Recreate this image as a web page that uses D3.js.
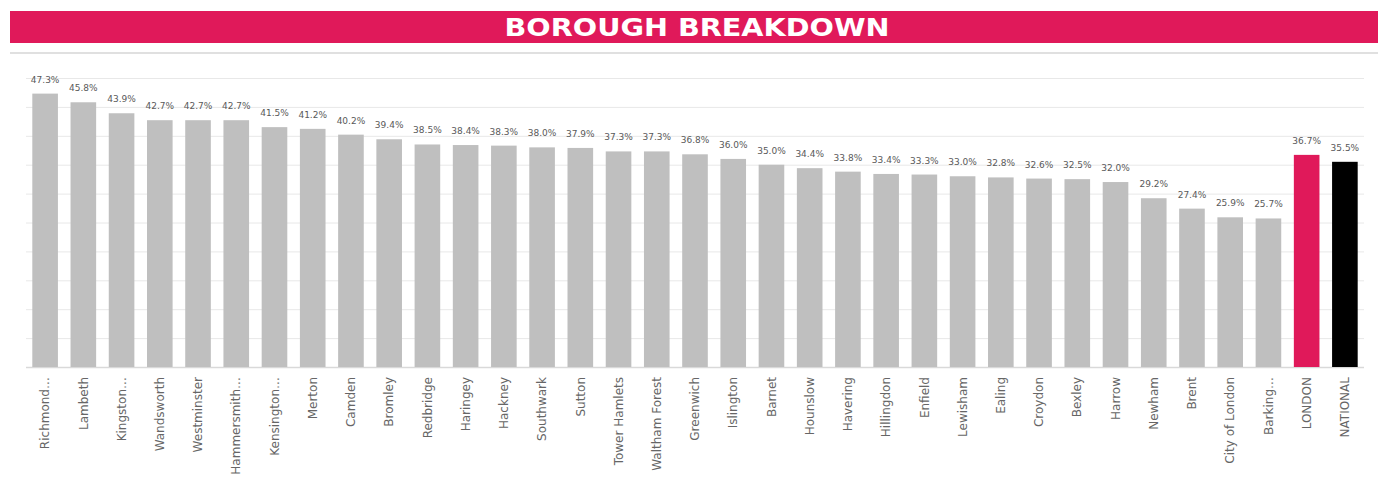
<!DOCTYPE html>
<html>
<head>
<meta charset="utf-8">
<script src="https://cdn.jsdelivr.net/npm/d3@7"></script>
<style>
  body { margin: 0; background: #fff; }
  svg { display: block; }
</style>
</head>
<body>
<svg width="1378" height="483"></svg>
<script>
// chart data
var boroughs = ["Richmond…", "Lambeth", "Kingston…", "Wandsworth", "Westminster", "Hammersmith…",
    "Kensington…", "Merton", "Camden", "Bromley", "Redbridge", "Haringey", "Hackney", "Southwark",
    "Sutton", "Tower Hamlets", "Waltham Forest", "Greenwich", "Islington", "Barnet", "Hounslow",
    "Havering", "Hillingdon", "Enfield", "Lewisham", "Ealing", "Croydon", "Bexley", "Harrow",
    "Newham", "Brent", "City of London", "Barking…", "LONDON", "NATIONAL"];
var shares = [47.3, 45.8, 43.9, 42.7, 42.7, 42.7, 41.5, 41.2, 40.2, 39.4, 38.5, 38.4, 38.3, 38.0,
    37.9, 37.3, 37.3, 36.8, 36.0, 35.0, 34.4, 33.8, 33.4, 33.3, 33.0, 32.8, 32.6, 32.5, 32.0,
    29.2, 27.4, 25.9, 25.7, 36.7, 35.5];
var gridTicks = [0, 5, 10, 15, 20, 25, 30, 35, 40, 45, 50];
var title = "BOROUGH BREAKDOWN";

const drawChart = () => {
    var width = 1378;
    var margin = { top: 78, bottom: 116, left: 26, right: 14 };
    var height = 483;

    var svg = d3.select('svg');

    // title banner
    svg.append('rect')
        .attr('x', 10).attr('y', 11)
        .attr('width', width - 10).attr('height', 32)
        .attr('fill', '#e0195a');

    svg.append('text')
        .attr('x', 697).attr('y', 36)
        .attr('text-anchor', 'middle')
        .attr('fill', '#fff')
        .attr('font-family', 'DejaVu Sans')
        .attr('font-weight', 'bold')
        .attr('font-size', 24)
        .attr('textLength', 385)
        .attr('lengthAdjust', 'spacingAndGlyphs')
        .text(title);

    // thin grey separator under banner
    svg.append('rect')
        .attr('x', 10).attr('y', 52)
        .attr('width', width - 10).attr('height', 2)
        .attr('fill', '#e0e0e0');

    var xScale = d3.scaleBand()
        .domain(boroughs)
        .range([margin.left, width - margin.right])
        .paddingInner(0.33)
        .paddingOuter(0.165);

    var yScale = d3.scaleLinear()
        .domain([0, 50])
        .range([height - margin.bottom, margin.top]);

    // gridlines
    svg.append('g')
        .selectAll('line')
        .data(gridTicks)
        .enter().append('line')
        .attr('x1', margin.left)
        .attr('x2', width - margin.right)
        .attr('y1', d => yScale(d) + 0.5)
        .attr('y2', d => yScale(d) + 0.5)
        .attr('stroke', d => d === 0 ? '#d9d9d9' : '#e8e8e8')
        .attr('stroke-width', d => d === 0 ? 1.5 : 1);

    // bars
    svg.append('g')
        .selectAll('rect')
        .data(shares)
        .enter().append('rect')
        .attr('x', (d, i) => xScale(boroughs[i]))
        .attr('y', d => yScale(d))
        .attr('width', xScale.bandwidth())
        .attr('height', d => yScale(0) - yScale(d))
        .attr('fill', (d, i) => {
            if (boroughs[i] === 'LONDON') return '#e0195a';
            if (boroughs[i] === 'NATIONAL') return '#000';
            return '#bfbfbf';
        });

    // value labels
    svg.append('g')
        .selectAll('text')
        .data(shares)
        .enter().append('text')
        .attr('x', (d, i) => xScale(boroughs[i]) + xScale.bandwidth() / 2)
        .attr('y', d => yScale(d) - 11)
        .attr('text-anchor', 'middle')
        .attr('font-family', 'DejaVu Sans')
        .attr('font-size', 9)
        .attr('fill', '#595959')
        .text(d => d.toFixed(1) + '%');

    // x axis labels, rotated
    var xAxis = d3.axisBottom(xScale).tickSize(0).tickPadding(0);
    var gx = svg.append('g')
        .attr('transform', 'translate(' + [0, yScale(0)] + ')')
        .call(xAxis);
    gx.select('.domain').remove();
    gx.selectAll('text')
        .attr('transform', 'rotate(-90)')
        .attr('x', -10)
        .attr('y', 0)
        .attr('dy', '0.35em')
        .attr('text-anchor', 'end')
        .attr('font-family', 'DejaVu Sans')
        .attr('font-size', 12)
        .attr('fill', '#666');
};

drawChart();
</script>
</body>
</html>
